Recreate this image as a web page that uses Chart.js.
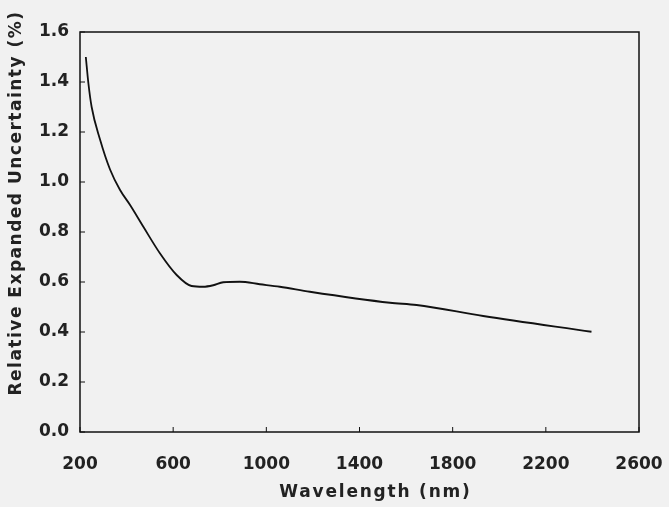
<!DOCTYPE html>
<html>
<head>
<meta charset="utf-8">
<script src="https://cdn.jsdelivr.net/npm/chart.js@4"></script>
<style>
  html, body { margin: 0; padding: 0; background: #f1f1f1; }
  #wrap { width: 669px; height: 507px; }
</style>
</head>
<body>
<div id="wrap"><canvas id="chart" width="669" height="507"></canvas></div>
<script>
// Data
const wavelength = [225, 236, 250, 286, 329, 372, 415, 472, 543, 615, 679, 729, 772, 815, 886, 972, 1058, 1187, 1531, 1645, 1931, 2396];
const uncertainty = [1.50, 1.395, 1.30, 1.17, 1.05, 0.968, 0.908, 0.821, 0.715, 0.628, 0.584, 0.581, 0.587, 0.599, 0.601, 0.591, 0.581, 0.561, 0.517, 0.508, 0.464, 0.401];
const xTicks = [200, 600, 1000, 1400, 1800, 2200, 2600];
const yTicks = [0.0, 0.2, 0.4, 0.6, 0.8, 1.0, 1.2, 1.4, 1.6];
const xTitle = 'Wavelength (nm)';
const yTitle = 'Relative Expanded Uncertainty (%)';

const points = wavelength.map((w, i) => ({x: w, y: uncertainty[i]}));
const family = '"DejaVu Sans", sans-serif';

// Frame, inward ticks and axis titles
const frameTicks = {
  id: 'frameTicks',
  afterDraw(chart){
    const {ctx, chartArea: a, scales: {x, y}} = chart;
    ctx.save();
    ctx.strokeStyle = '#111';
    ctx.lineWidth = 1.5;
    ctx.strokeRect(a.left, a.top, a.right - a.left, a.bottom - a.top);
    ctx.lineWidth = 1;
    ctx.beginPath();
    xTicks.forEach(t => {
      const px = x.getPixelForValue(t);
      ctx.moveTo(px, a.bottom); ctx.lineTo(px, a.bottom - 5);
    });
    yTicks.forEach(t => {
      const py = y.getPixelForValue(t);
      ctx.moveTo(a.left, py); ctx.lineTo(a.left + 5, py);
    });
    ctx.stroke();

    // titles, spaced out like the original
    ctx.fillStyle = '#222';
    ctx.font = 'bold 17px ' + family;
    ctx.letterSpacing = '1.8px';
    ctx.textAlign = 'center';
    ctx.textBaseline = 'middle';
    ctx.fillText(xTitle, (a.left + a.right) / 2 + 16, 493);
    ctx.letterSpacing = '1.5px';
    ctx.translate(17, 203);
    ctx.rotate(-Math.PI / 2);
    ctx.fillText(yTitle, 0, 0);
    ctx.restore();
  }
};

const font = {family: family, size: 17, weight: 'bold'};

new Chart(document.getElementById('chart'), {
  type: 'line',
  data: {datasets: [{
    data: points,
    borderColor: '#111',
    borderWidth: 1.8,
    pointRadius: 0,
    cubicInterpolationMode: 'monotone',
    fill: false
  }]},
  options: {
    responsive: false,
    animation: false,
    layout: {padding: {top: 32, right: 30, left: 0, bottom: 0}},
    plugins: {legend: {display: false}, tooltip: {enabled: false}},
    scales: {
      x: {
        type: 'linear', min: 200, max: 2600,
        afterBuildTicks: s => { s.ticks = xTicks.map(v => ({value: v})); },
        grid: {display: false, drawTicks: false},
        border: {display: false},
        ticks: {color: '#222', font: font, padding: 22, maxRotation: 0, callback: v => String(v)},
        afterFit: s => { s.height = 75; s.paddingLeft = 0; s.paddingRight = 0; }
      },
      y: {
        type: 'linear', min: 0, max: 1.6,
        afterBuildTicks: s => { s.ticks = yTicks.map(v => ({value: v})); },
        grid: {display: false, drawTicks: false},
        border: {display: false},
        ticks: {color: '#222', font: font, padding: 11, callback: v => v.toFixed(1)},
        afterFit: s => { s.width = 80; s.paddingTop = 0; s.paddingBottom = 0; }
      }
    }
  },
  plugins: [frameTicks]
});
</script>
</body>
</html>
